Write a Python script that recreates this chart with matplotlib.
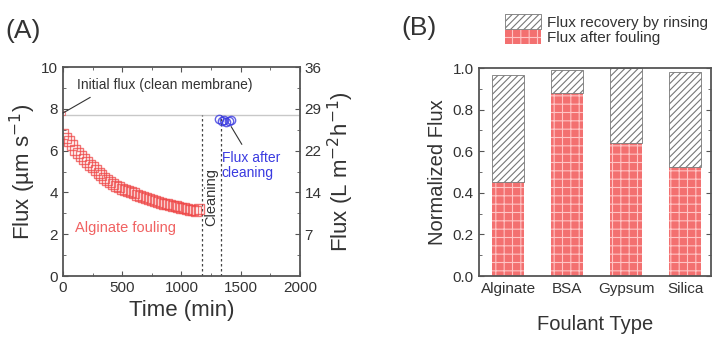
import numpy as np
import matplotlib.pyplot as plt
from matplotlib.patches import Patch

plt.rcParams['font.family'] = ['Liberation Sans', 'DejaVu Sans']
plt.rcParams['hatch.linewidth'] = 0.8

# panel A: alginate fouling run
fouling_time = [0, 25, 50, 75, 100, 125, 150, 175, 200, 225, 250, 275, 300, 325,
                350, 375, 400, 425, 450, 475, 500, 525, 550, 575, 600, 625, 650,
                675, 700, 725, 750, 775, 800, 825, 850, 875, 900, 925, 950, 975,
                1000, 1025, 1050, 1075, 1100, 1125, 1150]
fouling_flux = [6.8, 6.6, 6.45, 6.25, 6.05, 5.9, 5.75, 5.6, 5.45, 5.3, 5.2, 5.05,
                4.95, 4.85, 4.7, 4.6, 4.5, 4.4, 4.3, 4.25, 4.15, 4.1, 4.05, 4.0,
                3.95, 3.9, 3.85, 3.8, 3.75, 3.7, 3.65, 3.6, 3.55, 3.5, 3.45, 3.45,
                3.4, 3.35, 3.35, 3.3, 3.25, 3.25, 3.2, 3.15, 3.15, 3.1, 3.2]
clean_time = [1320, 1340, 1360, 1380, 1400, 1420]
clean_flux = [7.5, 7.4, 7.45, 7.35, 7.4, 7.45]
initial_flux = 7.7
cleaning_start, cleaning_end = 1170, 1330
right_ticks = [2, 4, 6, 8, 10]
right_labels = ['7', '14', '22', '29', '36']

# panel B: normalized flux per foulant
foulants = ['Alginate', 'BSA', 'Gypsum', 'Silica']
flux_after_fouling = [0.45, 0.88, 0.64, 0.525]
flux_after_rinsing = [0.965, 0.99, 1.00, 0.98]

red = '#ee4646'
blue = '#3a3ae0'
frame = '#555555'
txt = '#333333'

fig = plt.figure(figsize=(7.2, 3.37), dpi=100)

# ---------- (A) ----------
ax = fig.add_axes([0.0875, 0.181, 0.329, 0.620])
ax.axhline(initial_flux, color='#c8c8c8', lw=1.0, zorder=1)
ax.vlines([cleaning_start, cleaning_end], 0, initial_flux, colors='#444444',
          linestyles=(0, (2, 2)), lw=0.9)
ax.plot(fouling_time, fouling_flux, 's', mfc='none', mec=red, ms=7, mew=1.0, alpha=0.75)
ax.plot([0], [7.8], 's', mfc='none', mec=red, ms=3, mew=0.8, alpha=0.6)
ax.plot(clean_time, clean_flux, 'o', mfc='none', mec=blue, ms=6, mew=1.0, alpha=0.8)

ax.text(118, 9.15, 'Initial flux (clean membrane)', fontsize=10, color=txt, va='center')
ax.annotate('', xy=(0, 7.8), xytext=(230, 8.55),
            arrowprops=dict(arrowstyle='-', color=txt, lw=0.8, shrinkA=0, shrinkB=0))
ax.text(1340, 5.3, 'Flux after\ncleaning', fontsize=10, color=blue, va='center',
        linespacing=1.1)
ax.annotate('', xy=(1420, 7.15), xytext=(1510, 6.3),
            arrowprops=dict(arrowstyle='-', color=txt, lw=0.8, shrinkA=0, shrinkB=0))
ax.text(105, 2.3, 'Alginate fouling', color=red, fontsize=10.5, va='center', alpha=0.85)
ax.text(1250, 3.8, 'Cleaning', rotation=90, fontsize=10.5, color=txt,
        ha='center', va='center')

ax.set_xlim(0, 2000)
ax.set_ylim(0, 10)
ax.set_xticks([0, 500, 1000, 1500, 2000])
ax.set_xticks(np.arange(250, 2000, 250), minor=True)
ax.set_yticks([0, 2, 4, 6, 8, 10])
ax.set_yticks(np.arange(1, 10, 2), minor=True)
ax.tick_params(which='both', direction='in', top=True, colors=frame,
               labelcolor=txt, labelsize=11)
ax.tick_params(which='major', length=3.5)
ax.tick_params(which='minor', length=2)
ax.set_xlabel('Time (min)', fontsize=16, color=txt, labelpad=4)
ax.set_ylabel('Flux (µm s$^{-1}$)', fontsize=16, color=txt, labelpad=2)
for s in ax.spines.values():
    s.set_color(frame)
    s.set_linewidth(1.3)

ax2 = ax.twinx()
ax2.set_ylim(0, 10)
ax2.set_yticks(right_ticks)
ax2.set_yticklabels(right_labels)
ax2.set_yticks(np.arange(1, 10, 2), minor=True)
ax2.tick_params(which='both', direction='in', colors=frame, labelcolor=txt,
                labelsize=11)
ax2.tick_params(which='major', length=3.5)
ax2.tick_params(which='minor', length=2)
ax2.set_ylabel('Flux (L m$^{-2}$h$^{-1}$)', fontsize=16, color=txt, labelpad=3)
for s in ax2.spines.values():
    s.set_visible(False)

fig.text(0.008, 0.908, '(A)', fontsize=19, color=txt, va='center')

# ---------- (B) ----------
bx = fig.add_axes([0.665, 0.181, 0.322, 0.617])
xpos = np.arange(len(foulants))
width = 0.54
rinse_part = [t - f for t, f in zip(flux_after_rinsing, flux_after_fouling)]
bx.bar(xpos, flux_after_fouling, width, color='#f37070', edgecolor='#ffc4c4',
       hatch='++', lw=0)
bx.bar(xpos, rinse_part, width, bottom=flux_after_fouling, color='white',
       edgecolor='#777777', hatch='/////', lw=0.6)

bx.set_xlim(-0.5, 3.43)
bx.set_ylim(0, 1.0)
bx.set_xticks(xpos)
bx.set_xticklabels(foulants)
bx.set_yticks(np.arange(0, 1.01, 0.2))
bx.set_yticks(np.arange(0.1, 1.0, 0.2), minor=True)
bx.tick_params(axis='x', length=0, pad=4)
bx.tick_params(axis='y', which='both', direction='in', right=True, colors=frame,
               labelcolor=txt)
bx.tick_params(axis='y', which='major', length=3.5)
bx.tick_params(axis='y', which='minor', length=2)
bx.tick_params(labelsize=11, labelcolor=txt)
bx.set_yticklabels(['0.0', '0.2', '0.4', '0.6', '0.8', '1.0'])
bx.set_xlabel('Foulant Type', fontsize=14.5, color=txt, labelpad=14)
bx.set_ylabel('Normalized Flux', fontsize=14.5, color=txt, labelpad=4)
for s in bx.spines.values():
    s.set_color(frame)
    s.set_linewidth(1.3)

handles = [Patch(facecolor='white', edgecolor='#777777', hatch='/////', lw=0.6),
           Patch(facecolor='#f37070', edgecolor='#ffc4c4', hatch='++', lw=0)]
fig.legend(handles, ['Flux recovery by rinsing', 'Flux after fouling'],
           loc='upper left', bbox_to_anchor=(0.686, 0.99), frameon=False,
           fontsize=11, handlelength=2.4, handleheight=1.1, handletextpad=0.4,
           labelspacing=0.0, borderpad=0.2, labelcolor=txt)

fig.text(0.558, 0.917, '(B)', fontsize=19, color=txt, va='center')

fig.savefig('out.png', dpi=100)
